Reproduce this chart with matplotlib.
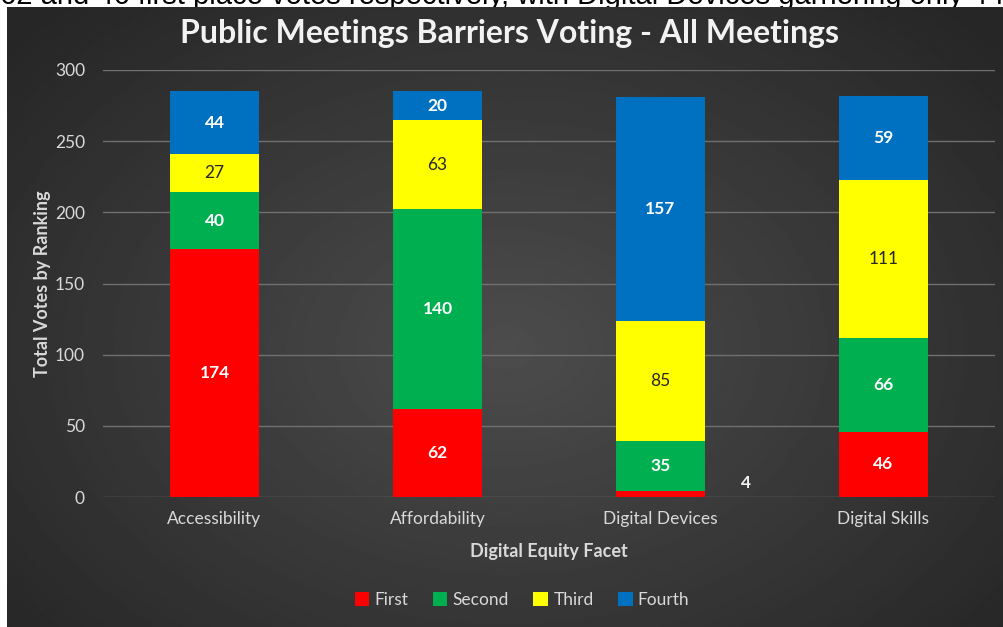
import matplotlib.pyplot as plt
import numpy as np
from matplotlib.patches import Patch

facets = ['Accessibility', 'Affordability', 'Digital Devices', 'Digital Skills']
rankings = ['First', 'Second', 'Third', 'Fourth']
first = [174, 62, 4, 46]
second = [40, 140, 35, 66]
third = [27, 63, 85, 111]
fourth = [44, 20, 157, 59]
colors = ['#FF0000', '#00B050', '#FFFF00', '#0070C0']
label_colors = ['white', 'white', '#262626', 'white']
label_weights = ['bold', 'bold', 'normal', 'bold']

caption = '62 and 46 first place votes respectively, with Digital Devices garnering only 4 first place votes.'
title = 'Public Meetings Barriers Voting - All Meetings'

plt.rcParams['font.family'] = ['Lato', 'DejaVu Sans']

W, H = 1004, 627
fig = plt.figure(figsize=(W / 100, H / 100), dpi=100)
fig.patch.set_facecolor('white')

# cut-off caption line from the surrounding document
fig.text(0.0, 1 - 4 / H, caption, fontsize=21, family='Liberation Sans',
         color='black', va='baseline', ha='left', zorder=-2)

# dark radial gradient background of the chart
bg = fig.add_axes([7 / W, 0, 1 - 7 / W, 1 - 7 / H], zorder=-1)
gy, gx = np.mgrid[0:1:300j, 0:1:480j]
r = np.sqrt(((gx - 0.5) / 0.75) ** 2 + ((gy - 0.55) / 0.85) ** 2)
shade = np.clip(0.30 - 0.17 * r, 0.15, 0.30)
bg.imshow(shade, cmap='gray', vmin=0, vmax=1, aspect='auto', extent=[0, 1, 0, 1])
bg.set_axis_off()

ax = fig.add_axes([103 / W, 1 - 497 / H, 892 / W, 427 / H])
ax.set_facecolor('none')

x = np.arange(len(facets))
series = [first, second, third, fourth]
bottom = np.zeros(len(facets))
for vals, name, col, lc, lw in zip(series, rankings, colors, label_colors, label_weights):
    bars = ax.bar(x, vals, width=0.4, bottom=bottom, color=col, label=name, zorder=3)
    for i, (b, v) in enumerate(zip(bars, vals)):
        cx = b.get_x() + b.get_width() / 2
        cy = bottom[i] + v / 2
        if v < 10:
            # small segment: Excel pushed the label off to the right
            ax.annotate(str(v), (cx, cy), xytext=(85, 11), textcoords='offset pixels',
                        ha='center', va='center', color='#f2f2f2', fontsize=12.5,
                        fontweight='bold', zorder=4)
        else:
            ax.text(cx, cy, str(v), ha='center', va='center', color=lc,
                    fontsize=12.5, fontweight=lw, zorder=4)
    bottom += np.array(vals)

ax.set_xlim(-0.5, 3.5)
ax.set_ylim(0, 300)
ax.set_yticks(np.arange(0, 301, 50))
ax.set_xticks(x)
ax.set_xticklabels(facets)
ax.grid(True, axis='y', color='#707070', linewidth=1.0, zorder=0)
ax.tick_params(axis='both', length=0, colors='#d9d9d9', labelsize=12.5)
ax.tick_params(axis='x', pad=10)
ax.tick_params(axis='y', pad=13)
for s in ax.spines.values():
    s.set_visible(False)

ax.set_xlabel('Digital Equity Facet', color='#d9d9d9', fontsize=13, fontweight='bold')
ax.xaxis.set_label_coords(0.5, -0.108)
ax.set_ylabel('Total Votes by Ranking', color='#d9d9d9', fontsize=13, fontweight='bold')
ax.yaxis.set_label_coords(-0.058, 0.5)

fig.text(510 / W, 1 - 33 / H, title, ha='center', va='center', color='#f2f2f2',
         fontsize=23, fontweight='bold')

handles = [Patch(facecolor=c, label=n) for c, n in zip(colors, rankings)]
fig.legend(handles=handles, loc='center', bbox_to_anchor=(522 / W, 1 - 600 / H), ncol=4,
           frameon=False, fontsize=12.5, labelcolor='#d9d9d9', handlelength=0.85,
           handleheight=0.85, handletextpad=0.3, columnspacing=1.4)

fig.savefig('out.png', dpi=100)
